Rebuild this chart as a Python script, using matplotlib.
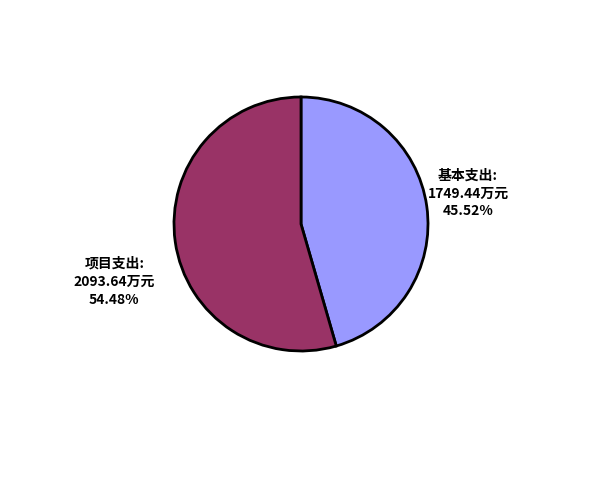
import numpy as np
import matplotlib
matplotlib.use('Agg')
import matplotlib.pyplot as plt

plt.rcParams['font.family'] = ['Noto Sans CJK SC', 'DejaVu Sans']

# 数据
names = ['基本支出', '项目支出']
amounts = [1749.44, 2093.64]
percents = ['45.52%', '54.48%']
colors = ['#9999FF', '#993366']

fig = plt.figure(figsize=(5.96, 4.94), dpi=100)
ax = fig.add_axes([(301 - 127) / 596, (270 - 127) / 494, 254 / 596, 254 / 494])

ax.pie(amounts, colors=colors, startangle=90, counterclock=False,
       wedgeprops={'edgecolor': 'black', 'linewidth': 2})
ax.set_xlim(-1, 1)
ax.set_ylim(-1, 1)

# 标签位置 (半径的倍数)
label_pos = [(1.315, 0.24), (-1.47, -0.455)]
for name, amt, pct, (lx, ly) in zip(names, amounts, percents, label_pos):
    ax.text(lx, ly, '%s:\n%.2f万元\n%s' % (name, amt, pct), ha='center', va='center',
            fontsize=10, fontweight='bold', linespacing=1.35, clip_on=False)

fig.savefig('out.png', dpi=100)
